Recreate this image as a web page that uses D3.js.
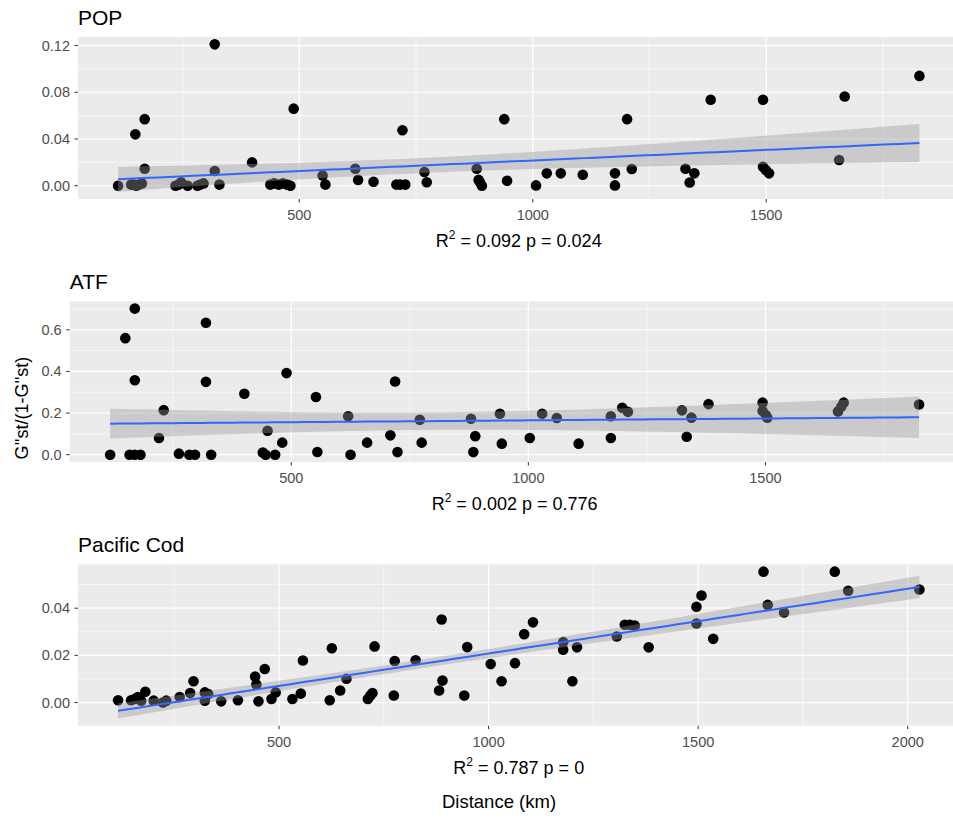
<!DOCTYPE html>
<html>
<head>
<meta charset="utf-8">
<script src="https://cdn.jsdelivr.net/npm/d3@7"></script>
<style>
  body { margin: 0; background: #fff; }
  svg { display: block; font-family: "Liberation Sans", Arial, sans-serif; }
</style>
</head>
<body>
<svg id="chart" width="953" height="819"></svg>
<script>
// distances (km) and G''st/(1-G''st)
const popDist = [112, 149, 169, 169, 140, 145, 151, 157, 163, 235, 242, 247, 261, 282, 288, 295, 319, 319, 329, 399,
  438, 446, 456, 465, 474, 481, 488, 550, 556, 620, 626, 659, 708, 716, 727, 721, 768, 773, 880, 884,
  887, 891, 939, 945, 1007, 1030, 1060, 1107, 1176, 1176, 1202, 1212, 1327, 1346, 1336, 1381, 1493, 1493, 1499, 1506,
  1656, 1668, 1828];
const popGst = [0, 0.044, 0.057, 0.0146, 0.001, 0.001, 0, 0.001, 0.002, 0, 0.001, 0.003, 0, 0, 0.001, 0.002, 0.121, 0.0126, 0.001, 0.020,
  0.001, 0.002, 0.001, 0.002, 0.001, 0, 0.066, 0.0088, 0.001, 0.0146, 0.005, 0.0034, 0.001, 0.001, 0.001, 0.0475, 0.0118, 0.003, 0.0146, 0.005,
  0.003, 0, 0.057, 0.0043, 0.0003, 0.0106, 0.0106, 0.0094, 0.0106, 0.0003, 0.057, 0.0143, 0.0146, 0.0106, 0.0028, 0.0736, 0.0736, 0.0163, 0.0134, 0.0106,
  0.022, 0.0764, 0.094];

const atfDist = [118, 150, 159, 170, 182, 170, 170, 221, 231, 263, 285, 297, 320, 320, 331, 401, 440, 446, 450, 466,
  481, 490, 552, 555, 620, 625, 660, 709, 719, 724, 771, 775, 879, 888, 884, 940, 944, 1003, 1029, 1060,
  1106, 1174, 1174, 1198, 1210, 1324, 1334, 1344, 1380, 1494, 1494, 1501, 1504, 1653, 1660, 1665, 1824];
const atfGst = [0, 0.56, 0, 0, 0, 0.702, 0.358, 0.08, 0.214, 0.005, 0, 0, 0.634, 0.35, 0, 0.293, 0.01, 0, 0.115, 0,
  0.058, 0.392, 0.277, 0.013, 0.185, 0, 0.058, 0.093, 0.352, 0.0125, 0.168, 0.058, 0.173, 0.089, 0.0125, 0.197, 0.053, 0.08, 0.197, 0.176,
  0.053, 0.185, 0.08, 0.225, 0.206, 0.213, 0.086, 0.178, 0.243, 0.25, 0.21, 0.19, 0.178, 0.208, 0.231, 0.25, 0.241];

const codDist = [116, 147, 155, 163, 171, 181, 201, 223, 231, 263, 288, 296, 323, 323, 331, 362, 402, 443, 446, 451,
  466, 482, 492, 532, 552, 557, 621, 626, 646, 661, 712, 718, 723, 728, 774, 776, 826, 882, 890, 888,
  942, 949, 1005, 1031, 1063, 1085, 1106, 1178, 1178, 1200, 1211, 1306, 1325, 1337, 1349, 1382, 1496, 1508, 1496, 1536,
  1656, 1666, 1705, 1826, 1858, 2028];
const codGst = [0.001, 0.001, 0.0015, 0.0023, 0.0008, 0.0046, 0.0008, 0, 0.0008, 0.0023, 0.004, 0.009, 0.0043, 0.0008, 0.0036, 0.0005, 0.001, 0.011, 0.0077, 0.0005,
  0.0142, 0.0015, 0.0043, 0.0015, 0.0038, 0.0178, 0.001, 0.023, 0.0051, 0.0101, 0.0015, 0.003, 0.004, 0.0238, 0.003, 0.0176, 0.0179, 0.0051, 0.0093, 0.0352,
  0.003, 0.0235, 0.0163, 0.009, 0.0167, 0.029, 0.034, 0.0256, 0.0224, 0.009, 0.0234, 0.028, 0.033, 0.033, 0.0326, 0.0234, 0.0406, 0.0454, 0.0335, 0.027,
  0.0555, 0.0414, 0.0382, 0.0555, 0.0474, 0.0479];

const titles = ['POP', 'ATF', 'Pacific Cod'];
const fitLabels = [['0.092', '0.024'], ['0.002', '0.776'], ['0.787', '0']];
const xTicks = [[500, 1000, 1500], [500, 1000, 1500], [500, 1000, 1500, 2000]];
const yTicks = [[0, 0.04, 0.08, 0.12], [0, 0.2, 0.4, 0.6], [0, 0.02, 0.04]];
const yFormats = ['.2f', '.1f', '.2f'];

const svg = d3.select('#chart');

// panel boxes (left, top, bottom); right edge runs off the cropped figure
const boxes = [
  {left: 78, top: 37, bottom: 199},
  {left: 69.7, top: 301.3, bottom: 462},
  {left: 78, top: 564.3, bottom: 725.7}
];
const panelRight = 959.5;

// t quantile (0.975) via Cornish-Fisher expansion
const tq = (df) => {
  const z = 1.959964;
  return z + (z ** 3 + z) / (4 * df) + (5 * z ** 5 + 16 * z ** 3 + 3 * z) / (96 * df * df);
};

const fitLm = (xs, ys) => {
  const n = xs.length;
  const mx = d3.mean(xs), my = d3.mean(ys);
  const sxx = d3.sum(xs, (x) => (x - mx) ** 2);
  const sxy = d3.sum(xs, (x, i) => (x - mx) * (ys[i] - my));
  const b = sxy / sxx, a = my - b * mx;
  const s2 = d3.sum(xs, (x, i) => (ys[i] - a - b * x) ** 2) / (n - 2);
  const t = tq(n - 2);
  const [x0, x1] = d3.extent(xs);
  return d3.range(80).map((i) => {
    const x = x0 + (x1 - x0) * i / 79;
    const y = a + b * x;
    const se = Math.sqrt(s2 * (1 / n + (x - mx) ** 2 / sxx));
    return {x: x, y: y, lo: y - t * se, hi: y + t * se};
  });
};

const expand = ([a, b]) => [a - (b - a) * 0.05, b + (b - a) * 0.05];

const minorOf = (ticks, domain) => {
  const step = ticks[1] - ticks[0];
  const out = [];
  for (let v = ticks[0] - step / 2; v <= domain[1]; v += step) {
    if (v >= domain[0]) out.push(v);
  }
  return out;
};

function drawPanel(i, xs, ys) {
  const box = boxes[i];
  const fit = fitLm(xs, ys);
  const xDom = expand(d3.extent(xs));
  const yDom = expand([Math.min(d3.min(ys), d3.min(fit, (d) => d.lo)), Math.max(d3.max(ys), d3.max(fit, (d) => d.hi))]);
  const x = d3.scaleLinear().domain(xDom).range([box.left, panelRight]);
  const y = d3.scaleLinear().domain(yDom).range([box.bottom, box.top]);
  const g = svg.append('g');

  g.append('rect')
    .attr('x', box.left).attr('y', box.top)
    .attr('width', panelRight - box.left).attr('height', box.bottom - box.top)
    .attr('fill', '#ebebeb');

  // grid
  const xMinor = minorOf(xTicks[i], xDom), yMinor = minorOf(yTicks[i], yDom);
  g.selectAll('.vmin').data(xMinor).enter().append('line')
    .attr('x1', x).attr('x2', x).attr('y1', box.top).attr('y2', box.bottom)
    .attr('stroke', '#fff').attr('stroke-width', 0.6);
  g.selectAll('.hmin').data(yMinor).enter().append('line')
    .attr('x1', box.left).attr('x2', panelRight).attr('y1', y).attr('y2', y)
    .attr('stroke', '#fff').attr('stroke-width', 0.6);
  g.selectAll('.vmaj').data(xTicks[i]).enter().append('line')
    .attr('x1', x).attr('x2', x).attr('y1', box.top).attr('y2', box.bottom)
    .attr('stroke', '#fff').attr('stroke-width', 1.2);
  g.selectAll('.hmaj').data(yTicks[i]).enter().append('line')
    .attr('x1', box.left).attr('x2', panelRight).attr('y1', y).attr('y2', y)
    .attr('stroke', '#fff').attr('stroke-width', 1.2);

  // points first, the smoother's band is laid over them
  g.selectAll('circle').data(xs).enter().append('circle')
    .attr('cx', (d) => x(d))
    .attr('cy', (d, j) => y(ys[j]))
    .attr('r', 5.3)
    .attr('fill', '#000');

  g.append('path')
    .attr('d', d3.area().x((d) => x(d.x)).y0((d) => y(d.lo)).y1((d) => y(d.hi))(fit))
    .attr('fill', '#999999').attr('fill-opacity', 0.4);
  g.append('path')
    .attr('d', d3.line().x((d) => x(d.x)).y((d) => y(d.y))(fit))
    .attr('fill', 'none').attr('stroke', '#3366ff').attr('stroke-width', 2);

  // axes
  const fmt = d3.format(yFormats[i]);
  g.selectAll('.ytk').data(yTicks[i]).enter().append('line')
    .attr('x1', box.left - 3.5).attr('x2', box.left).attr('y1', y).attr('y2', y)
    .attr('stroke', '#333').attr('stroke-width', 1);
  g.selectAll('.ylab').data(yTicks[i]).enter().append('text')
    .attr('x', box.left - 8).attr('y', (d) => y(d) + 5)
    .attr('text-anchor', 'end').attr('font-size', 14.5).attr('fill', '#4d4d4d')
    .text(fmt);
  g.selectAll('.xtk').data(xTicks[i]).enter().append('line')
    .attr('x1', x).attr('x2', x).attr('y1', box.bottom).attr('y2', box.bottom + 3.5)
    .attr('stroke', '#333').attr('stroke-width', 1);
  g.selectAll('.xlab').data(xTicks[i]).enter().append('text')
    .attr('x', x).attr('y', box.bottom + 21)
    .attr('text-anchor', 'middle').attr('font-size', 14.5).attr('fill', '#4d4d4d')
    .text((d) => d);

  g.append('text')
    .attr('x', box.left).attr('y', box.top - 12)
    .attr('font-size', 21).attr('fill', '#000')
    .text(titles[i]);

  // R^2 / p label as the x-axis title
  const lab = g.append('text')
    .attr('x', (box.left + panelRight) / 2).attr('y', box.bottom + 48)
    .attr('text-anchor', 'middle').attr('font-size', 18).attr('fill', '#000');
  lab.append('tspan').text('R');
  lab.append('tspan').attr('font-size', 12).attr('dy', -8).text('2');
  lab.append('tspan').attr('dy', 8).text(' = ' + fitLabels[i][0] + ' p = ' + fitLabels[i][1]);
}

drawPanel(0, popDist, popGst);
drawPanel(1, atfDist, atfGst);
drawPanel(2, codDist, codGst);

svg.append('text')
  .attr('transform', 'translate(28,408) rotate(-90)')
  .attr('text-anchor', 'middle').attr('font-size', 18).attr('fill', '#000')
  .text("G''st/(1-G''st)");

svg.append('text')
  .attr('x', 499).attr('y', 808)
  .attr('text-anchor', 'middle').attr('font-size', 18.5).attr('fill', '#000')
  .text('Distance (km)');
</script>
</body>
</html>
